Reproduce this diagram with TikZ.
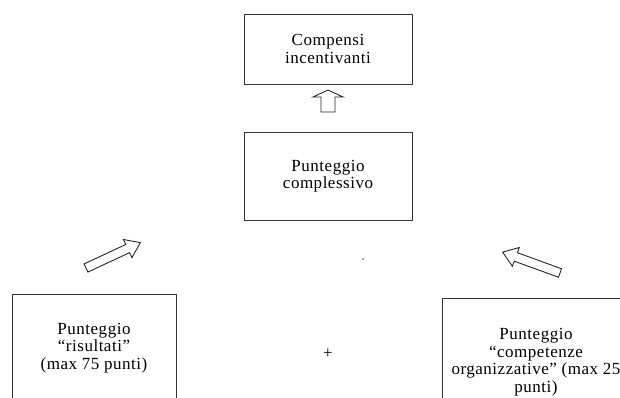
\documentclass[tikz,border=0pt]{standalone}
\usepackage{fontspec}
\setmainfont{Liberation Serif}[LetterSpace=3.0]
\newcommand\barrow[7]{%
  \begin{scope}[shift={(#1,#2)},rotate=#3]
  \draw[arr] (0,-#5) -- ({#4-#7},-#5) -- ({#4-#7},-#6) -- (#4,0) -- ({#4-#7},#6) -- ({#4-#7},#5) -- (0,#5) -- cycle;
  \end{scope}}
\begin{document}
\begin{tikzpicture}[x=1pt,y=-1pt,
  box/.style={draw=black!80,line width=0.9pt,inner sep=0pt,align=center,
    font=\fontsize{17}{17.5}\selectfont,text=black},
  arr/.style={draw=black!85,line width=0.9pt,line join=miter},
]
\useasboundingbox (0,0) rectangle (620,398);
\clip (0,0) rectangle (620,398);
\node[box,minimum width=168pt,minimum height=70pt] (comp) at (328,49) {Compensi\\incentivanti};
\node[box,minimum width=168pt,minimum height=88pt] (tot) at (328,176) {Punteggio\\complessivo};
\node[box,minimum width=164pt,minimum height=108pt] (ris) at (94,348) {Punteggio\\“risultati”\\(max 75 punti)};
\node[box,minimum width=188pt,minimum height=128pt] (org) at (536,362) {Punteggio\\“competenze\\organizzative\symbol{34} (max 25\\punti)};
\barrow{328}{112}{90}{22}{7}{15}{7}
\barrow{86}{268}{25}{60}{4.5}{10}{14}
\barrow{560}{273}{160}{61}{4.5}{10}{14}
\node[font=\fontsize{17}{18}\selectfont] (plus) at (328,354) {+};
\fill[black!70] (363,259) circle (0.8pt);
\end{tikzpicture}
\end{document}
